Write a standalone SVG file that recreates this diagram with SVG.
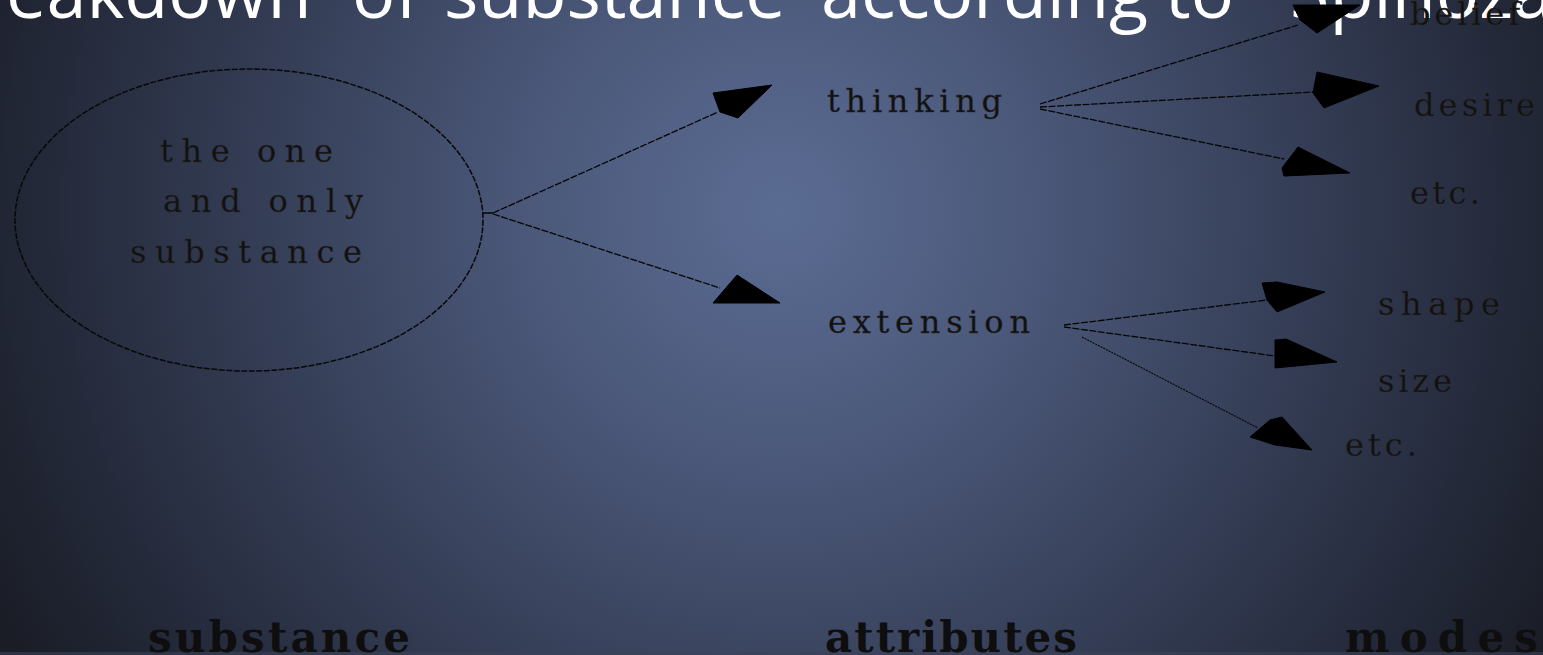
<svg xmlns="http://www.w3.org/2000/svg" width="1543" height="655" viewBox="0 0 1543 655">
<defs>
<radialGradient id="bg" gradientUnits="userSpaceOnUse" cx="780" cy="210" r="880">
<stop offset="0" stop-color="#5b6c93"/>
<stop offset="0.3" stop-color="#4a5778"/>
<stop offset="0.6" stop-color="#343d55"/>
<stop offset="0.85" stop-color="#232838"/>
<stop offset="1" stop-color="#1a1d26"/>
</radialGradient>
<style>
.title{font-family:"Open Sans","Noto Sans",sans-serif;font-size:72px;fill:#ffffff}
.lbl{font-family:"DejaVu Serif","Liberation Serif",serif;font-size:32px;fill:#111111;stroke:#2a2a2a;stroke-width:0.4}
.cat{font-family:"DejaVu Serif","Liberation Serif",serif;font-size:42px;font-weight:bold;fill:#0e0e0e}
.ln{fill:none;stroke:#050505;stroke-width:1.3;stroke-dasharray:7 1.5}
.dot{fill:none;stroke:#050505;stroke-width:1.1;stroke-dasharray:2 1}
.ah{fill:#000000;stroke:#000000;stroke-width:1}
.ring{fill:none;stroke:#080808;stroke-width:1.5;stroke-dasharray:6 1.5}
</style>
</defs>
<rect x="0" y="0" width="1543" height="655" fill="url(#bg)"/>
<rect x="0" y="652" width="1543" height="3" fill="#3a4258" opacity="0.6"/>

<g id="title">
<text class="title" y="18"><tspan x="6">eakdown</tspan><tspan x="352">of</tspan><tspan x="444">substance</tspan><tspan x="821">according</tspan><tspan x="1165">to</tspan><tspan x="1290">Spinoza</tspan></text>
</g>

<g id="connectors">
<line class="ln" x1="493" y1="213" x2="718" y2="112"/>
<polygon class="ah" points="713,93 772,85 738,118 720,112"/>
<line class="ln" x1="493" y1="214" x2="720" y2="288"/>
<polygon class="ah" points="713,303 737,275 780,303"/>
<line class="ln" x1="1040" y1="104" x2="1298" y2="25"/>
<polygon class="ah" points="1293,5 1360,5 1317,33 1300,20"/>
<line class="ln" x1="1040" y1="107" x2="1314" y2="92"/>
<polygon class="ah" points="1317,72 1379,86 1324,108 1313,93"/>
<line class="ln" x1="1040" y1="109" x2="1284" y2="159"/>
<polygon class="ah" points="1282,168 1298,147 1350,173 1284,176"/>
<line class="ln" x1="1064" y1="325" x2="1267" y2="300"/>
<polygon class="ah" points="1262,283 1277,282 1325,292 1277,312 1267,300"/>
<line class="ln" x1="1064" y1="327" x2="1275" y2="356"/>
<polygon class="ah" points="1275,340 1286,339 1337,362 1275,368"/>
<line class="dot" x1="1082" y1="337" x2="1258" y2="428"/>
<polygon class="ah" points="1250,437 1270,420 1282,417 1312,450 1275,445"/>
<line x1="483" y1="213" x2="493" y2="213" stroke="#050505" stroke-width="1.5"/>
</g>

<g id="node-substance">
<ellipse class="ring" cx="249" cy="220" rx="234" ry="151"/>
<text class="lbl" x="160" y="162" textLength="173" lengthAdjust="spacing">the one</text>
<text class="lbl" x="163" y="212" textLength="200" lengthAdjust="spacing">and only</text>
<text class="lbl" x="130" y="263" textLength="232" lengthAdjust="spacing">substance</text>
</g>

<g id="node-thinking">
<text class="lbl" x="827" y="112" textLength="175" lengthAdjust="spacing">thinking</text>
</g>
<g id="node-extension">
<text class="lbl" x="828" y="333" textLength="202" lengthAdjust="spacing">extension</text>
</g>
<g id="node-belief">
<text class="lbl" x="1410" y="25" textLength="110" lengthAdjust="spacing">belief</text>
</g>
<g id="node-desire">
<text class="lbl" x="1414" y="116" textLength="121" lengthAdjust="spacing">desire</text>
</g>
<g id="node-etc-thinking">
<text class="lbl" x="1410" y="204" textLength="70" lengthAdjust="spacing">etc.</text>
</g>
<g id="node-shape">
<text class="lbl" x="1378" y="315" textLength="122" lengthAdjust="spacing">shape</text>
</g>
<g id="node-size">
<text class="lbl" x="1378" y="392" textLength="74" lengthAdjust="spacing">size</text>
</g>
<g id="node-etc-extension">
<text class="lbl" x="1345" y="456" textLength="72" lengthAdjust="spacing">etc.</text>
</g>

<g id="labels">
<text class="cat" x="148" y="652" textLength="262" lengthAdjust="spacing">substance</text>
<text class="cat" x="825" y="652" textLength="252" lengthAdjust="spacing">attributes</text>
<text class="cat" x="1345" y="652" textLength="193" lengthAdjust="spacing">modes</text>
</g>
</svg>
